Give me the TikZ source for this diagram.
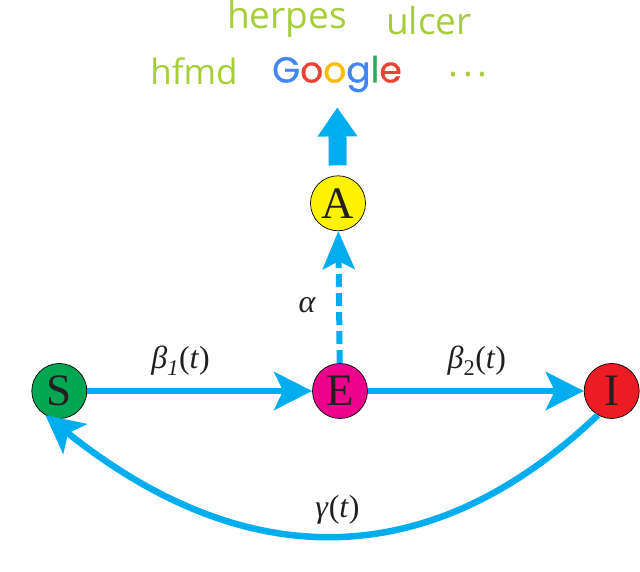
\documentclass[tikz,border=0pt]{standalone}
\usepackage{amsmath}
\usepackage{fontspec}
\usepackage{xcolor}
\usetikzlibrary{positioning,arrows.meta}
\newfontfamily\wordfont{Open Sans}
\newfontfamily\logofont[FakeBold=0.7]{Poppins}
\newfontfamily\letterfont{Liberation Serif}
\definecolor{arrowblue}{HTML}{00AEEF}
\definecolor{wordgreen}{HTML}{A6CE39}
\definecolor{inkgray}{HTML}{231F20}
\definecolor{nodeS}{HTML}{00A651}
\definecolor{nodeE}{HTML}{EC008C}
\definecolor{nodeA}{HTML}{FFF200}
\definecolor{nodeI}{HTML}{ED1C24}
\definecolor{gblue}{HTML}{4285F4}
\definecolor{gred}{HTML}{EA4335}
\definecolor{gyellow}{HTML}{FBBC05}
\definecolor{ggreen}{HTML}{34A853}

\begin{document}
\begin{tikzpicture}[%
    x=1pt,
    y=1pt,
    ->,
    >={Stealth[length=38pt,width=38pt,inset=9pt]},
    line width=6.5pt,
    draw=arrowblue,
    state/.style={%
      circle,
      minimum size=55pt,
      inner sep=0pt,
      draw=black,
      line width=0.7pt,
      text=inkgray,
      font=\letterfont\fontsize{45}{48}\selectfont
    },
    word/.style={%
      text=wordgreen,
      inner sep=0pt,
      font=\wordfont\fontsize{37}{39}\selectfont
    },
    rate/.style={%
      inner sep=0pt,
      text=inkgray,
      font=\letterfont\fontsize{32}{36}\selectfont
    }
  ]
    \useasboundingbox (0,0) rectangle (640,572);

    \node[state, fill=nodeE] (E) at (340,181)                 {E};
    \node[state, fill=nodeS] (S) [node distance=225pt,left=of E]  {S};
    \node[state, fill=nodeI] (I) [node distance=216pt,right=of E] {I};
    \node[state, fill=nodeA] (A) [node distance=132pt,above=of E, xshift=-2pt] {A};

    \node[inner sep=0pt, font=\logofont\fontsize{36}{38}\selectfont] (google) at (337,498)
      {\textcolor{gblue}{G}\textcolor{gred}{o}\textcolor{gyellow}{o}\textcolor{gblue}{g}\textcolor{ggreen}{l}\textcolor{gred}{e}};
    \node[word, font=\wordfont\fontsize{35}{37}\selectfont] (hfmd) at (194,501) {hfmd};
    \node[word] (herpes) at (287,553) {herpes};
    \node[word] (ulcer)  at (429,551) {ulcer};
    \node[word] (dots)   at (468,497) {.\kern5pt.\kern5pt.};

    \path (S) edge node[rate, above=12pt, xshift=-19pt] {\textit{β\textsubscript{1}}(\textit{t})} (E)
          (E) edge node[rate, above=12pt, xshift=1pt] {\textit{β}\textsubscript{2}(\textit{t})} (I);
    \draw[dashed, dash pattern=on 13pt off 6pt, line width=6pt,
          >={Stealth[length=38pt,width=32pt,inset=8pt]}] (E) -- node[rate, left=20pt, yshift=-8pt, solid] {\textit{α}} (A);
    \draw[line width=18pt, shorten >=12pt, shorten <=10pt,
          >={Stealth[length=29pt,width=38pt,inset=0pt]}] (A) -- (google);
    \draw (I.240) .. controls (430,-3) and (245,-3) .. node[rate, above=7pt, xshift=4pt] {\textit{γ}(\textit{t})} (S.240);
  \end{tikzpicture}
\end{document}
